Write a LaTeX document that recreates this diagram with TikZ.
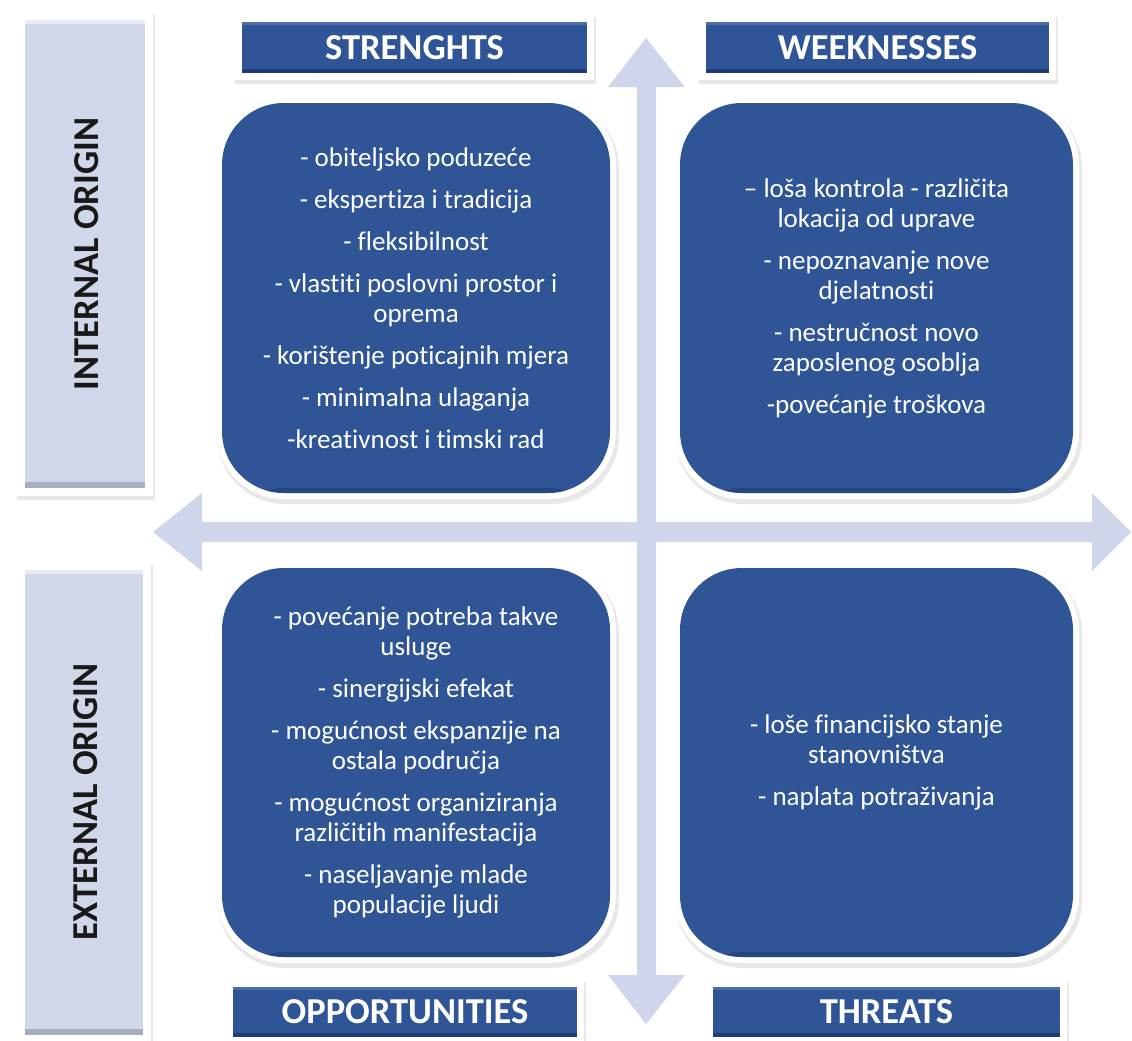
\documentclass[tikz,border=0pt]{standalone}
\usepackage{fontspec}
\setmainfont{Carlito}[Ligatures=NoCommon]
\usetikzlibrary{calc}
\definecolor{swotblue}{HTML}{2F5597}
\definecolor{swotdark}{HTML}{1F3D72}
\definecolor{arrowcol}{HTML}{CFD5EA}
\definecolor{grayfill}{HTML}{D0D7E8}
\definecolor{graydark}{HTML}{A7AEC0}
% panel macro: name, cx, cy, w, h, text
\newcommand\swotpanel[6]{%
  \node[shadowsty, rounded corners=68pt, minimum width=#4+14, minimum height=#5+14] (#1-sh) at (#2+2,#3+4) {};
  \node[framesty, rounded corners=68pt, minimum width=#4+12, minimum height=#5+12] (#1-fr) at (#2,#3) {};
  \node[panel, minimum width=#4, minimum height=#5] (#1) at (#2,#3) {#6};
}
\newcommand\swothead[6]{%
  \node[shadowsty, minimum width=#4+16, minimum height=#5+16] (#1-sh) at (#2+1,#3+3) {};
  \node[framesty, minimum width=#4+14, minimum height=#5+14] (#1-fr) at (#2,#3) {};
  \node[header, minimum width=#4, minimum height=#5] (#1) at (#2,#3) {#6};
}
\newcommand\swotorigin[6]{%
  \node[shadowsty, minimum width=#4+18, minimum height=#5+18] (#1-sh) at (#2+1,#3+3) {};
  \node[framesty, minimum width=#4+16, minimum height=#5+16] (#1-fr) at (#2,#3) {};
  \node[origin, minimum width=#4, minimum height=#5] (#1) at (#2,#3) {};
  \node[origintext] (#1-t) at (#2+2,#3) {#6};
}
\begin{document}
\begin{tikzpicture}[x=1pt,y=-1pt,
  shadowsty/.style={fill=black, opacity=0.09, draw=none, inner sep=0pt},
  framesty/.style={fill=white, draw=none, inner sep=0pt},
  panel/.style={fill=swotblue, text=white, align=center, inner sep=0pt,
    font=\fontsize{27}{30}\selectfont, rounded corners=62pt,
    path picture={\fill[swotdark, opacity=0.6] ([yshift=-5pt]path picture bounding box.south west) rectangle ([yshift=5pt]path picture bounding box.south east);}},
  header/.style={fill=swotblue, text=white, inner sep=0pt,
    font=\fontsize{36.5}{40}\selectfont\bfseries,
    path picture={\fill[swotdark] (path picture bounding box.south west) rectangle ([yshift=4pt]path picture bounding box.south east);
                  \fill[white, opacity=0.15] (path picture bounding box.north west) rectangle ([yshift=-3pt]path picture bounding box.north east);}},
  origin/.style={fill=grayfill, inner sep=0pt,
    path picture={\fill[graydark] (path picture bounding box.south west) rectangle ([yshift=6pt]path picture bounding box.south east);
                  \fill[white, opacity=0.5] (path picture bounding box.north west) rectangle ([yshift=-4pt]path picture bounding box.north east);}},
  origintext/.style={rotate=90, font=\fontsize{36.5}{40}\selectfont\bfseries, text=black!90}
]
\useasboundingbox (0,0) rectangle (1132,1041);

% arrows
\fill[arrowcol] (646,38) -- (685,87) -- (656,87) -- (656,975) -- (685,975) -- (646,1024)
  -- (608,975) -- (637,975) -- (637,87) -- (608,87) -- cycle;
\fill[arrowcol] (153,532) -- (202,493) -- (202,522) -- (1092,522) -- (1092,493) -- (1131,532)
  -- (1092,571) -- (1092,542) -- (202,542) -- (202,571) -- cycle;

% origin boxes
\swotorigin{int}{85}{254}{120}{468}{INTERNAL ORIGIN}
\swotorigin{ext}{84}{802}{118}{465}{EXTERNAL ORIGIN}

% headers
\swothead{hs}{414.5}{47.5}{345}{51}{STRENGHTS}
\swothead{hw}{877.5}{47.5}{343}{51}{WEEKNESSES}
\swothead{ho}{405}{1012}{344}{50}{OPPORTUNITIES}
\swothead{ht}{886.5}{1012}{347}{50}{THREATS}

% panels
\swotpanel{ps}{416}{298}{388}{390}{- obiteljsko poduzeće\\[12pt]- ekspertiza i tradicija\\[12pt]- fleksibilnost\\[12pt]- vlastiti poslovni prostor i\\oprema\\[12pt]- korištenje poticajnih mjera\\[12pt]- minimalna ulaganja\\[12pt]-kreativnost i timski rad}
\swotpanel{pw}{876.5}{298}{393}{390}{– loša kontrola - različita\\lokacija od uprave\\[12pt]- nepoznavanje nove\\djelatnosti\\[12pt]- nestručnost novo\\zaposlenog osoblja\\[12pt]-povećanje troškova}
\swotpanel{po}{416}{762.5}{388}{389}{- povećanje potreba takve\\usluge\\[12pt]- sinergijski efekat\\[12pt]- mogućnost ekspanzije na\\ostala područja\\[12pt]- mogućnost organiziranja\\različitih manifestacija\\[12pt]- naseljavanje mlade\\populacije ljudi}
\swotpanel{pt}{876.5}{762.5}{393}{389}{- loše financijsko stanje\\stanovništva\\[12pt]- naplata potraživanja}
\end{tikzpicture}
\end{document}
